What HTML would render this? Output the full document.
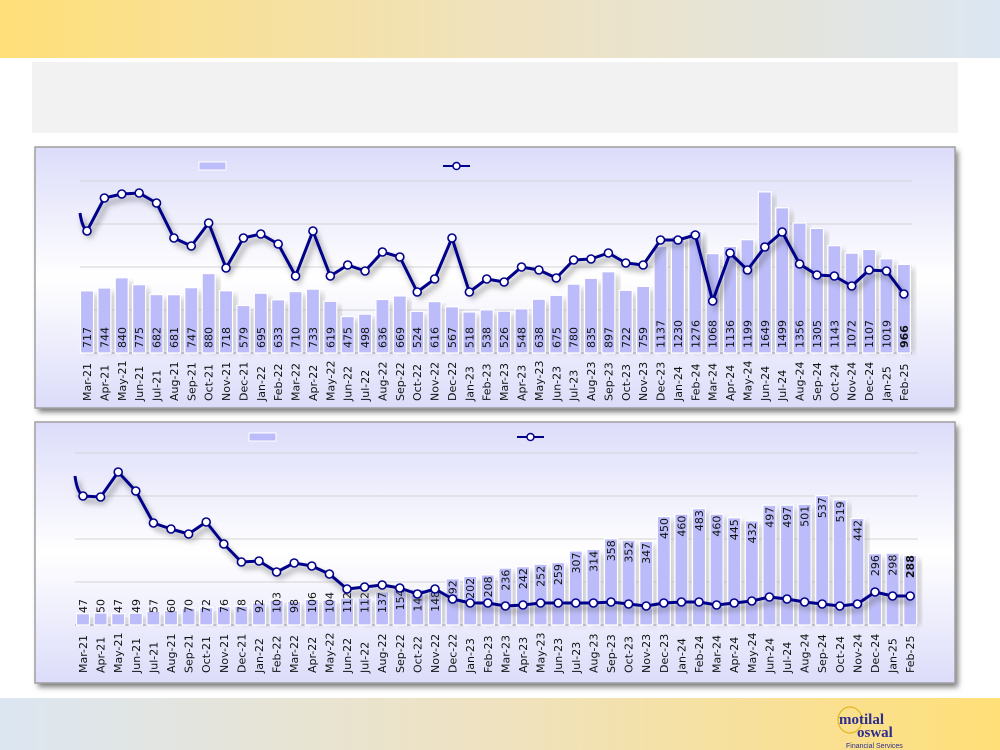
<!DOCTYPE html>
<html><head><meta charset="utf-8">
<style>
html,body{margin:0;padding:0;width:1000px;height:750px;overflow:hidden;background:#fff;font-family:"Liberation Sans",sans-serif}
</style></head><body>
<svg id="s" width="1000" height="750" xmlns="http://www.w3.org/2000/svg" font-family="'DejaVu Sans','Liberation Sans',sans-serif">
<defs>
<linearGradient id="top" x1="0" x2="1" y1="0" y2="0"><stop offset="0" stop-color="#ffdf78"/><stop offset="0.5" stop-color="#efe2bf"/><stop offset="1" stop-color="#dce6f2"/></linearGradient>
<linearGradient id="bot" x1="0" x2="1" y1="0" y2="0"><stop offset="0" stop-color="#dce6f2"/><stop offset="0.5" stop-color="#efe2bf"/><stop offset="1" stop-color="#ffdf78"/></linearGradient>
<linearGradient id="pan" x1="0" x2="0" y1="0" y2="1"><stop offset="0" stop-color="#dcdcfa"/><stop offset="0.5" stop-color="#ffffff"/><stop offset="1" stop-color="#dcdcfa"/></linearGradient>
<filter id="sh" x="-5%" y="-5%" width="110%" height="120%"><feGaussianBlur stdDeviation="3"/></filter>
</defs>
<rect x="0" y="0" width="1000" height="58" fill="url(#top)"/>
<rect x="32" y="62" width="926" height="71" fill="#f2f2f2"/>
<rect x="0" y="698" width="1000" height="52" fill="url(#bot)"/>
<g id="g"></g>
<g font-family="'Liberation Serif',serif" fill="#2b2d8f">
<ellipse cx="850" cy="720" rx="12" ry="13" fill="none" stroke="#e0b820" stroke-width="1.2"/>
<text x="839" y="724" font-size="15" font-weight="bold">motilal</text>
<text x="857" y="737" font-size="15" font-weight="bold">oswal</text>
<text x="846" y="748" font-size="7" font-family="'Liberation Sans',sans-serif">Financial Services</text>
</g>
</svg>
<script>
var M=["Mar","Apr","May","Jun","Jul","Aug","Sep","Oct","Nov","Dec","Jan","Feb"];
var labs=[];for(var i=0;i<48;i++){var m=M[i%12];var y=21+Math.floor((i+2)/12);labs.push(m+"-"+y);}
var b1=[717,744,840,775,682,681,747,880,718,579,695,633,710,733,619,475,498,636,669,524,616,567,518,538,526,548,638,675,780,835,897,722,759,1137,1230,1276,1068,1136,1199,1649,1499,1356,1305,1143,1072,1107,1019,966];
var l1=[231,198,194,193,203,238,246,223,268,238,234,244,276,231,276,265,271,252,257,292,279,238,292,279,282,267,270,278,260,259,253,263,265,240,240,235,301,253,270,247,232,264,275,276,286,270,271,294];
var b2=[47,50,47,49,57,60,70,72,76,78,92,103,98,106,104,112,112,137,154,149,148,192,202,208,236,242,252,259,307,314,358,352,347,450,460,483,460,445,432,497,497,501,537,519,442,296,298,288];
var l2=[496,497,472,491,523,529,534,522,544,562,561,572,563,566,574,589,587,585,588,594,589,599,603,603,606,605,603,603,603,603,602,604,606,603,602,602,605,603,601,597,599,602,604,606,604,592,596,596];
var h="";
function chart(o){
 h+='<rect x="'+(o.px+3)+'" y="'+(o.py+4)+'" width="'+o.pw+'" height="'+o.ph+'" fill="#777" filter="url(#sh)"/>';
 h+='<rect x="'+o.px+'" y="'+o.py+'" width="'+o.pw+'" height="'+o.ph+'" fill="url(#pan)" stroke="#a0a0a0" stroke-width="1.5"/>';
 o.grid.forEach(function(g){h+='<line x1="'+o.x0+'" x2="'+o.x1+'" y1="'+g+'" y2="'+g+'" stroke="#d4d4d4" stroke-width="1"/>';});
 h+='<line x1="'+o.x0+'" x2="'+o.x1+'" y1="'+o.base+'" y2="'+o.base+'" stroke="#999" stroke-width="1"/>';
 var pts=[];
 for(var i=0;i<48;i++){
  var cx=o.c0+i*o.p, t=Math.max(o.z-o.b[i]*o.k, o.py+20), top=Math.min(t,o.base);
  h+='<rect x="'+(cx-6.5+5)+'" y="'+(top+4)+'" width="13" height="'+(o.base-top-4)+'" fill="#aaa" opacity="0.5" filter="url(#sh)"/>';
  h+='<rect x="'+(cx-6.5)+'" y="'+top+'" width="13" height="'+(o.base-top)+'" fill="#bcbcfa" stroke="#fff" stroke-width="1.2"/>';
  var s=String(o.b[i]), len=s.length*6.5, ty;
  if(o.mode==1){ty=o.base-5;}
  else{var tt=Math.min(top+3,o.base-len-12);ty=tt+len;}
  h+='<text transform="translate('+(cx+4)+','+ty+') rotate(-90)" font-size="11" fill="#111"'+(i==47?' font-weight="bold"':'')+'>'+s+'</text>';
  h+='<text transform="translate('+(cx+4)+','+(o.base+48)+') rotate(-90)" font-size="11" fill="#111">'+labs[i]+'</text>';
  pts.push([cx,o.l[i]]);
 }
 var d="M"+o.x0+","+o.ls+" Q"+(o.x0+2)+","+(pts[0][1]-4)+" "+pts[0][0]+","+pts[0][1];
 for(var i=1;i<48;i++)d+=" L"+pts[i][0]+","+pts[i][1];
 h+='<path d="'+d+'" transform="translate(3,5)" fill="none" stroke="#555" stroke-width="4" opacity="0.5" filter="url(#sh)"/>';
 h+='<path d="'+d+'" fill="none" stroke="#00008b" stroke-width="3" stroke-linejoin="round"/>';
 pts.forEach(function(q){h+='<circle cx="'+q[0]+'" cy="'+q[1]+'" r="4" fill="#fff" stroke="#00008b" stroke-width="1.6"/>';});
 h+='<rect x="'+o.lg[0]+'" y="'+o.lg[1]+'" width="27" height="8" fill="#bcbcfa" stroke="#fff"/>';
 h+='<line x1="'+o.lg[2]+'" x2="'+(o.lg[2]+27)+'" y1="'+(o.lg[1]+4)+'" y2="'+(o.lg[1]+4)+'" stroke="#00008b" stroke-width="2"/>';
 h+='<circle cx="'+(o.lg[2]+13.5)+'" cy="'+(o.lg[1]+4)+'" r="3.5" fill="#fff" stroke="#00008b" stroke-width="1.5"/>';
}
chart({px:35,py:147,pw:920,ph:261,x0:80,x1:912,grid:[181,224,267,310],base:353,c0:87,p:17.38,z:367,k:0.1062,b:b1,l:l1,ls:213,mode:1,lg:[199,162,443]});
chart({px:35,py:422,pw:920,ph:261,x0:75,x1:918,grid:[453,496,539,582],base:625,c0:83,p:17.6,z:625,k:0.241,b:b2,l:l2,ls:476,mode:2,lg:[249,433,517]});
document.getElementById("g").innerHTML=h;
</script>
</body></html>
